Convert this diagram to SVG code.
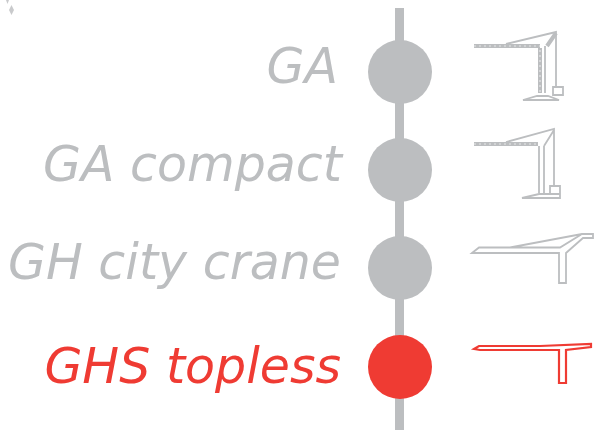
<svg xmlns="http://www.w3.org/2000/svg" width="605" height="430" viewBox="0 0 605 430">
<style>
.l{font-family:"DejaVu Sans",sans-serif;font-style:oblique;font-size:49px;text-anchor:end;fill:#bcbec0}
.r{fill:#ef3b33}
.c{fill:#bcbec0}
.o{fill:none;stroke:#bcbec0;stroke-width:1.8}
.b{fill:none;stroke:#bcbec0;stroke-width:4}
.d{fill:none;stroke:#e6e7e8;stroke-width:1.2;stroke-dasharray:2 3}
.red{fill:none;stroke:#ef3b33;stroke-width:2.2}
</style>
<rect x="0" y="0" width="605" height="430" fill="#fff"/>
<g id="connectors"><rect x="395" y="8" width="9" height="422" fill="#bcbec0"/></g>
<g id="marks" fill="#c9cacc"><path d="M6 0H9L7.500 4ZM11.500 5L14 10L11.500 15L9 10Z"/></g>
<g id="node-ga"><circle class="c" cx="400" cy="72" r="32"/><text class="l" x="338" y="83">GA</text>
<path class="b" d="M474 46H540M540 48V93M547 46L556 33"/><path class="d" d="M474 46H540M540 50V92"/>
<path class="o" d="M506 44L556 32V87M545 46V93M523 100L537 96H548L559 100ZM553 87H563V95H553Z"/></g>
<g id="node-ga-compact"><circle class="c" cx="400" cy="170" r="32"/><text class="l" x="342" y="181">GA compact</text>
<path class="b" d="M474 144H538"/><path class="d" d="M474 144H538"/>
<path class="o" d="M506 142L554 129V187M539 146V193M544 146V193M544 146L554 130M522 198L539 194H560V198ZM550 186H560V194H550Z"/></g>
<g id="node-gh-city"><circle class="c" cx="400" cy="268" r="32"/><text class="l" x="341" y="279">GH city crane</text>
<path class="o" d="M472 253L479 247.500H510L582 234H593V238H583L566 253V283H559V253ZM510 247.500H560L582 234"/></g>
<g id="node-ghs"><circle class="r" cx="400" cy="367" r="32"/><text class="l" x="341" y="383" style="fill:#ef3b33">GHS topless</text>
<path class="red" d="M474 349L479 346H540L591 344V347L566 350V383H559V350H480Z"/></g>
</svg>
